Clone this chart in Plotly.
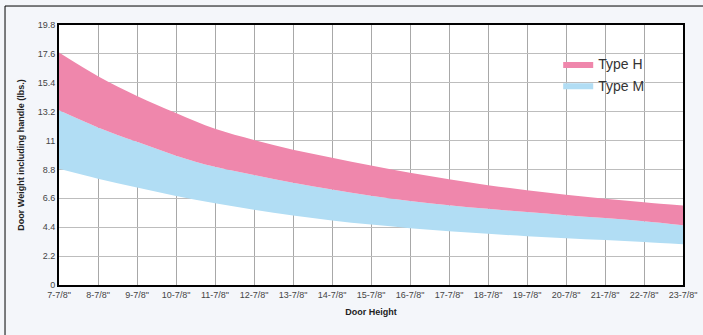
import plotly.graph_objects as go

# Door heights (x axis tick labels)
heights = ['7-7/8"', '8-7/8"', '9-7/8"', '10-7/8"', '11-7/8"', '12-7/8"', '13-7/8"',
           '14-7/8"', '15-7/8"', '16-7/8"', '17-7/8"', '18-7/8"', '19-7/8"', '20-7/8"',
           '21-7/8"', '22-7/8"', '23-7/8"']
x = list(range(len(heights)))

# Band edges (lbs.)
h_upper = [17.7, 15.9, 14.4, 13.1, 11.9, 11.05, 10.3, 9.7, 9.1, 8.55, 8.05, 7.6, 7.22, 6.88, 6.57, 6.3, 6.05]
h_lower = [13.3, 12.0, 10.9, 9.85, 9.0, 8.38, 7.78, 7.27, 6.8, 6.4, 6.08, 5.8, 5.55, 5.32, 5.1, 4.85, 4.55]
m_upper = h_lower
m_lower = [8.85, 8.1, 7.42, 6.78, 6.22, 5.74, 5.3, 4.92, 4.6, 4.33, 4.1, 3.9, 3.72, 3.56, 3.42, 3.27, 3.1]

y_ticks = [0, 2.2, 4.4, 6.6, 8.8, 11, 13.2, 15.4, 17.6, 19.8]
y_labels = ['0', '2.2', '4.4', '6.6', '8.8', '11', '13.2', '15.4', '17.6', '19.8']

pink = '#ef87ac'
blue = '#b1ddf4'

fig = go.Figure()
fig.add_trace(go.Scatter(x=x, y=m_lower, mode='lines', line=dict(width=0, shape='spline'),
                         showlegend=False, hoverinfo='skip'))
fig.add_trace(go.Scatter(x=x, y=m_upper, mode='lines', line=dict(width=0, shape='spline'),
                         fill='tonexty', fillcolor=blue, name='Type M',
                         legendrank=2, legendgroup='m'))
fig.add_trace(go.Scatter(x=x, y=h_lower, mode='lines', line=dict(width=0, shape='spline'),
                         showlegend=False, hoverinfo='skip'))
fig.add_trace(go.Scatter(x=x, y=h_upper, mode='lines', line=dict(width=0, shape='spline'),
                         fill='tonexty', fillcolor=pink, name='Type H',
                         legendrank=1, legendgroup='h'))

fig.update_layout(
    width=703, height=335,
    margin=dict(l=59, r=20, t=25, b=50, autoexpand=False),
    paper_bgcolor='#f4f6fa',
    plot_bgcolor='white',
    font=dict(family='Liberation Sans, Arial, sans-serif', color='#333', size=9),
    legend=dict(x=0.8, y=0.91, xanchor='left', yanchor='top', traceorder='normal',
                tracegroupgap=3, bgcolor='rgba(0,0,0,0)',
                font=dict(size=14, color='#333'), itemwidth=30),
    # thin outer frame round the whole picture
    shapes=[dict(type='rect', xref='paper', yref='paper', x0=-0.0865, y0=-0.35,
                 x1=1.2, y1=1.073, line=dict(color='black', width=1),
                 fillcolor='rgba(0,0,0,0)', layer='above')],
)
fig.update_xaxes(
    range=[0, 16], tickvals=x, ticktext=heights, tickfont=dict(size=9, color='#444'),
    showgrid=True, gridcolor='#a8a8a8', gridwidth=1,
    showline=True, linecolor='black', linewidth=2, mirror=True,
    zeroline=False, ticks='', automargin=False,
    title=dict(text='<b>Door Height</b>', font=dict(size=9, color='#222'), standoff=10),
)
fig.update_yaxes(
    range=[0, 19.8], tickvals=y_ticks, ticktext=y_labels, tickfont=dict(size=9, color='#444'),
    showgrid=True, gridcolor='#bdbdbd', gridwidth=1,
    showline=True, linecolor='black', linewidth=2, mirror=True,
    zeroline=False, ticks='', automargin=False,
    title=dict(text='<b>Door Weight including handle (lbs.)</b>', font=dict(size=9, color='#222'),
               standoff=12),
)

fig.write_html('out.html', config={'displayModeBar': False},
               post_script="document.body.style.margin='0';")
